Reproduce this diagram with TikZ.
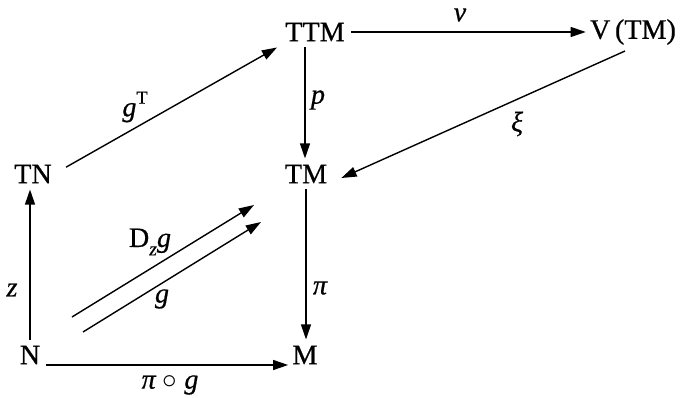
\documentclass[tikz,border=0pt]{standalone}
\usepackage{fontspec}
\setmainfont{Liberation Serif}
\newfontfamily\diagfont[FakeBold=0.6]{Liberation Serif}
\usetikzlibrary{arrows.meta}

\begin{document}
\begin{tikzpicture}[
    x=0.025cm, y=-0.025cm,
    obj/.style={inner sep=0.15cm, font=\diagfont\fontsize{20}{24}\selectfont},
    lbl/.style={inner sep=0pt, font=\diagfont\fontsize{20}{24}\selectfont\itshape},
    arrow/.style={-{Triangle[length=0.38cm, width=0.25cm]}, line width=1pt}
]
\useasboundingbox (0,0) rectangle (690,398);

\node[obj] (ttm) at (315,32) {TTM};
\node[obj] (vtm) at (633,32) {V\,(TM)};
\node[obj] (tn) at (33,174) {TN};
\node[obj] (tm) at (306,174) {TM};
\node[obj] (n) at (30,355) {N};
\node[obj] (m) at (305,355) {M};

% free ends of the two parallel arrows
\coordinate (dzs) at (72,317);
\coordinate (dze) at (254,205);
\coordinate (gs) at (83,332);
\coordinate (ge) at (261,222);

\draw[arrow] ([xshift=0.2cm,yshift=0.17cm]tn.east) -- ([xshift=-0.05cm]ttm.south west);
\draw[arrow] (ttm.east) -- ([xshift=0.05cm]vtm.west);
\draw[arrow] ([xshift=-0.25cm]ttm.south) -- ([xshift=-0.25cm]ttm.south |- tm.north);
\draw[arrow] ([xshift=-0.2cm]vtm.south) -- ([xshift=0.2cm,yshift=-0.1cm]tm.east);
\draw[arrow] (tm.south) -- (tm.south |- m.north);
\draw[arrow] (n.north) -- (n.north |- tn.south);
\draw[arrow] ([yshift=-0.25cm]n.east) -- ([yshift=-0.25cm,xshift=0.05cm]m.west);
\draw[arrow] (dzs) -- (dze);
\draw[arrow] (gs) -- (ge);

\node[lbl] (lgt) at (135,107) {g\raisebox{0.45em}{\fontsize{13}{13}\selectfont\upshape T}};
\node[lbl] (lv) at (460,15) {v};
\node[lbl] (lp) at (318,100) {p};
\node[lbl] (lxi) at (517,124) {ξ};
\node[lbl] (lpi) at (320,288) {π};
\node[lbl] (lz) at (12,290) {z};
\node[lbl] (ldz) at (150,242) {\upshape D\raisebox{-0.3em}{\fontsize{14}{14}\selectfont\itshape z}\itshape g};
\node[lbl] (lg) at (162,299) {g};
\node[lbl] (lpig) at (170,385) {π\ $\circ$\ g};
\end{tikzpicture}
\end{document}
